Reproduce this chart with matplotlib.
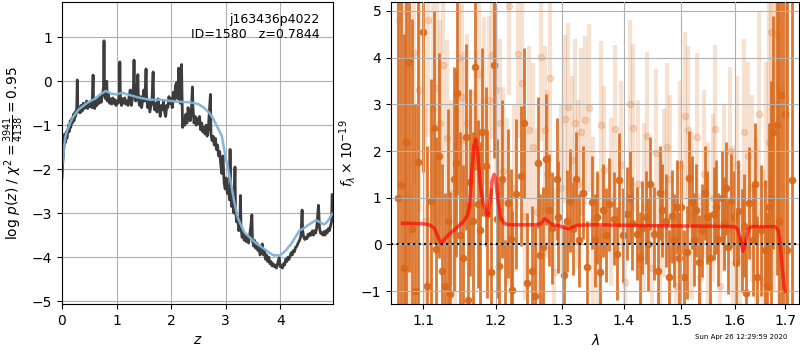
import numpy as np
import matplotlib
matplotlib.use("Agg")
import matplotlib.pyplot as plt
from matplotlib.ticker import FixedLocator, NullLocator, NullFormatter

# ---- left panel: log p(z) ----
z_grid = [0.00, 0.01, 0.02, 0.03, 0.04, 0.05, 0.06, 0.07, 0.08, 0.09, 0.10, 0.12, 0.13, 0.15, 0.16,
          0.18, 0.19, 0.21, 0.22, 0.24, 0.25, 0.27, 0.28, 0.29, 0.31, 0.33, 0.35, 0.37, 0.39, 0.41,
          0.43, 0.45, 0.47, 0.49, 0.51, 0.53, 0.55, 0.57, 0.58, 0.60, 0.62, 0.64, 0.66, 0.68, 0.70,
          0.72, 0.74, 0.76, 0.77, 0.78, 0.80, 0.82, 0.83, 0.85, 0.87, 0.89, 0.91, 0.93, 0.95, 0.97,
          0.99, 1.01, 1.03, 1.05, 1.06, 1.07, 1.09, 1.11, 1.13, 1.15, 1.17, 1.19, 1.21, 1.23, 1.25,
          1.27, 1.29, 1.31, 1.32, 1.33, 1.35, 1.37, 1.39, 1.40, 1.42, 1.44, 1.46, 1.48, 1.50, 1.51,
          1.53, 1.54, 1.55, 1.57, 1.59, 1.61, 1.63, 1.65, 1.67, 1.68, 1.70, 1.72, 1.74, 1.76, 1.78,
          1.80, 1.82, 1.84, 1.86, 1.88, 1.90, 1.92, 1.94, 1.96, 1.98, 2.00, 2.02, 2.04, 2.06, 2.08,
          2.10, 2.12, 2.14, 2.15, 2.17, 2.19, 2.20, 2.21, 2.23, 2.25, 2.27, 2.29, 2.31, 2.33, 2.35,
          2.37, 2.39, 2.40, 2.42, 2.44, 2.46, 2.48, 2.50, 2.52, 2.54, 2.56, 2.58, 2.60, 2.62, 2.64,
          2.66, 2.68, 2.70, 2.72, 2.73, 2.75, 2.77, 2.79, 2.81, 2.83, 2.85, 2.87, 2.89, 2.91, 2.93,
          2.95, 2.97, 2.99, 3.01, 3.03, 3.05, 3.07, 3.08, 3.09, 3.11, 3.13, 3.15, 3.17, 3.18, 3.20,
          3.22, 3.24, 3.26, 3.27, 3.28, 3.30, 3.32, 3.34, 3.36, 3.38, 3.40, 3.42, 3.44, 3.46, 3.48,
          3.49, 3.51, 3.53, 3.55, 3.57, 3.59, 3.61, 3.63, 3.65, 3.67, 3.69, 3.71, 3.73, 3.75, 3.77,
          3.79, 3.81, 3.83, 3.85, 3.87, 3.89, 3.91, 3.93, 3.95, 3.98, 4.00, 4.02, 4.04, 4.06, 4.08,
          4.10, 4.12, 4.14, 4.16, 4.18, 4.20, 4.22, 4.24, 4.26, 4.28, 4.30, 4.32, 4.34, 4.36, 4.38,
          4.40, 4.41, 4.43, 4.45, 4.47, 4.49, 4.51, 4.53, 4.55, 4.57, 4.59, 4.61, 4.63, 4.65, 4.67,
          4.70, 4.72, 4.74, 4.76, 4.78, 4.80, 4.82, 4.84, 4.86, 4.88, 4.90, 4.92, 4.94, 4.95]
logpz = [-2.20, -1.90, -1.75, -1.55, -1.45, -1.20, -1.40, -1.30, -1.15, -1.30, -1.20, -1.00, -1.15, -0.90, -1.05,
         -0.85, -0.95, -0.75, -0.90, -0.70, -0.80, -0.60, 0.03, -0.70, -0.60, -0.72, -0.55, -0.68, -0.50, -0.62,
         -0.55, -0.45, -0.62, -0.50, -0.58, -0.48, -0.60, 0.14, -0.55, -0.62, -0.45, -0.55, -0.40, -0.50, -0.35,
         -0.48, -0.30, -0.15, 0.92, -0.30, -0.40, 0.00, -0.45, -0.30, -0.50, -0.40, -0.52, -0.38, -0.50, -0.42,
         -0.55, -0.45, -0.50, -0.30, 0.44, -0.35, -0.55, -0.40, -0.50, -0.38, -0.52, -0.45, -0.55, -0.35, -0.20,
         -0.55, -0.40, -0.10, 0.48, -0.20, -0.45, -0.30, 0.15, -0.40, -0.55, -0.35, -0.60, -0.40, -0.20, -0.45,
         -0.10, 0.28, -0.35, -0.60, -0.45, -0.70, -0.55, -0.40, 0.21, -0.50, -0.65, -0.50, -0.70, -0.40, -0.60,
         -0.80, -0.55, -0.65, -0.45, -0.70, -0.80, -0.55, -0.60, -0.35, -0.50, -0.40, -0.60, -0.25, -0.45, -0.10,
         -0.03, -0.40, 0.30, -0.10, -0.50, 0.38, -0.30, -1.05, -0.85, -1.00, -0.75, -0.95, -0.60, -0.80, -0.90,
         -0.70, -0.13, -0.60, -0.95, -0.80, -1.00, -0.85, -0.97, -0.80, -1.10, -0.95, -1.15, -1.05, -1.20, -1.00,
         -1.25, -1.10, -0.70, -0.30, -1.20, -1.35, -1.25, -1.45, -1.30, -1.55, -1.45, -1.70, -1.60, -1.90, -2.10,
         -1.70, -2.30, -2.45, -2.20, -2.55, -2.40, -2.70, -1.55, -2.50, -2.85, -2.60, -3.00, -1.95, -2.90, -3.20,
         -3.10, -3.40, -3.25, -2.60, -3.30, -3.55, -3.45, -3.62, -3.50, -3.65, -3.55, -3.68, -3.50, -3.30, -3.04,
         -3.60, -3.75, -3.62, -3.80, -3.68, -3.85, -3.78, -3.95, -3.85, -3.70, -3.95, -3.85, -4.05, -3.95, -4.10,
         -4.00, -4.15, -4.10, -4.20, -4.15, -4.22, -4.18, -4.25, -4.15, -4.01, -4.22, -4.20, -4.25, -4.15, -4.18,
         -4.05, -4.10, -4.00, -4.05, -3.98, -3.90, -3.95, -3.85, -3.88, -3.78, -3.76, -3.70, -3.65, -3.60, -3.50,
         -2.93, -3.40, -3.55, -3.60, -3.55, -3.58, -3.48, -3.52, -3.45, -3.50, -3.40, -3.50, -3.40, -3.45, -3.30,
         -2.82, -3.35, -3.46, -3.45, -3.50, -3.42, -3.50, -3.40, -3.45, -3.35, -3.40, -3.30, -3.20, -2.58]

z_smooth = [0.00, 0.03, 0.06, 0.10, 0.15, 0.20, 0.30, 0.45, 0.60, 0.70, 0.80, 0.90, 1.00, 1.10, 1.20,
            1.40, 1.60, 1.80, 2.00, 2.20, 2.35, 2.50, 2.60, 2.70, 2.77, 2.85, 2.93, 3.00, 3.08, 3.15,
            3.22, 3.29, 3.35, 3.44, 3.55, 3.69, 3.80, 3.88, 4.00, 4.10, 4.20, 4.30, 4.35, 4.45, 4.50,
            4.60, 4.65, 4.72, 4.80, 4.86, 4.95]
logpz_smooth = [-1.95, -1.60, -1.27, -1.10, -0.95, -0.82, -0.65, -0.50, -0.40, -0.30, -0.22, -0.28, -0.30, -0.26, -0.30,
                -0.37, -0.42, -0.42, -0.45, -0.47, -0.48, -0.52, -0.60, -0.72, -0.85, -1.05, -1.25, -1.75, -2.20, -2.70,
                -3.10, -3.30, -3.45, -3.55, -3.68, -3.80, -3.90, -3.96, -3.96, -3.85, -3.70, -3.50, -3.40, -3.33, -3.28,
                -3.20, -3.16, -3.20, -3.26, -3.20, -3.02]

# ---- right panel: spectrum ----
wave = [1.0675, 1.0711, 1.0745, 1.0777, 1.0820, 1.0857, 1.0895, 1.0934, 1.1000, 1.1050, 1.1106, 1.1140,
        1.1173, 1.1213, 1.1253, 1.1294, 1.1330, 1.1362, 1.1417, 1.1444, 1.1458, 1.1500, 1.1540, 1.1580,
        1.1610, 1.1637, 1.1680, 1.1707, 1.1749, 1.1777, 1.1810, 1.1862, 1.1877, 1.1930, 1.1977, 1.2020,
        1.2049, 1.2090, 1.2140, 1.2181, 1.2225, 1.2240, 1.2298, 1.2372, 1.2417, 1.2462, 1.2537, 1.2582,
        1.2628, 1.2658, 1.2704, 1.2750, 1.2796, 1.2842, 1.2920, 1.2935, 1.3029, 1.3075, 1.3124, 1.3171,
        1.3220, 1.3266, 1.3330, 1.3395, 1.3475, 1.3524, 1.3556, 1.3610, 1.3654, 1.3700, 1.3753, 1.3836,
        1.3880, 1.3919, 1.3986, 1.4053, 1.4100, 1.4138, 1.4223, 1.4270, 1.4309, 1.4378, 1.4410, 1.4447,
        1.4517, 1.4587, 1.4620, 1.4657, 1.4728, 1.4781, 1.4830, 1.4870, 1.4924, 1.4960, 1.4996, 1.5050,
        1.5104, 1.5140, 1.5195, 1.5240, 1.5268, 1.5323, 1.5378, 1.5430, 1.5471, 1.5527, 1.5601, 1.5640,
        1.5677, 1.5752, 1.5790, 1.5830, 1.5866, 1.5923, 1.5981, 1.6020, 1.6058, 1.6135, 1.6180, 1.6213,
        1.6271, 1.6350, 1.6390, 1.6429, 1.6520, 1.6587, 1.6630, 1.6667, 1.6710, 1.6748, 1.6828, 1.6870,
        1.6940, 1.6990, 1.7031, 1.7134]
flux = [1.00, 1.28, -0.50, 2.20, 3.90, 0.32, -1.00, 1.77, 4.55, -0.90, 0.94, 2.50,
        -0.10, 1.90, -0.57, -0.90, 0.50, -1.07, 1.40, 1.74, 3.25, 0.20, -0.30, 2.30,
        -1.20, 1.33, 0.50, 3.80, 0.86, 0.30, 2.40, 1.67, 0.66, -0.60, 3.84, 0.55,
        -0.47, 1.40, -1.50, 0.88, 0.12, -0.98, 1.08, 1.47, 2.60, -0.83, -0.57, -1.10,
        1.75, -0.23, -0.06, 1.82, 0.74, 0.36, 1.40, 0.58, -0.66, 0.50, 0.94, 0.34,
        1.40, 0.09, 1.11, -0.49, 0.90, 0.09, 0.58, -0.60, 0.73, 0.20, 0.86, 0.55,
        -0.20, 1.38, 0.20, 0.66, 1.00, 0.45, 0.23, -0.30, 0.36, 0.58, 0.00, 1.30,
        0.23, -0.57, 1.10, 0.73, 0.51, -0.70, 0.60, 0.09, 0.80, -0.30, 0.80, -0.70,
        -0.17, 1.43, 0.90, 0.10, 0.73, -0.38, 0.30, 1.10, 0.58, -0.30, 0.66, 0.80,
        0.11, 1.00, 0.45, 1.20, -0.06, 0.94, 0.58, -0.40, 0.71, 0.09, 0.40, -1.05,
        0.88, 0.09, 1.30, -0.70, 0.30, -0.13, -0.90, 0.81, 1.00, 2.40, 2.55, 0.50,
        3.20, 2.80, -0.13, 1.37]
err = [6.0, 5.5, 5.0, 4.0, 4.5, 4.5, 4.0, 3.5, 3.0, 3.0, 2.6, 2.5,
       2.4, 2.2, 2.3, 2.0, 2.4, 2.2, 2.4, 2.0, 2.2, 2.2, 2.0, 2.0,
       2.1, 2.0, 1.9, 2.2, 1.8, 1.9, 1.8, 1.7, 1.8, 1.8, 2.0, 1.7,
       1.8, 1.7, 1.6, 1.6, 1.5, 1.7, 1.6, 1.5, 1.6, 1.5, 1.4, 1.5,
       1.4, 1.3, 1.3, 1.4, 1.2, 1.2, 1.3, 1.2, 1.1, 1.1, 1.1, 1.0,
       1.0, 1.0, 1.0, 1.0, 1.0, 1.0, 1.0, 1.0, 1.0, 1.0, 1.0, 1.0,
       1.0, 1.0, 1.0, 1.0, 1.0, 1.0, 1.0, 1.0, 1.0, 1.0, 1.0, 1.0,
       1.0, 1.0, 1.0, 1.0, 1.0, 1.0, 1.0, 1.0, 1.0, 1.0, 1.0, 1.0,
       1.0, 1.0, 1.0, 1.0, 1.0, 1.0, 1.0, 1.0, 1.0, 1.0, 1.0, 1.0,
       1.0, 1.0, 1.0, 1.0, 1.0, 1.0, 1.0, 1.1, 1.1, 1.1, 1.1, 1.1,
       1.2, 1.2, 1.3, 1.3, 1.4, 1.5, 1.6, 1.8, 2.5, 2.5, 3.2, 5.0,
       6.0, 6.5, 7.0, 8.0]

wave_b = [1.0690, 1.0760, 1.0810, 1.0880, 1.0950, 1.1030, 1.1070, 1.1130, 1.1190, 1.1230, 1.1270, 1.1320,
          1.1380, 1.1430, 1.1480, 1.1520, 1.1560, 1.1600, 1.1660, 1.1720, 1.1760, 1.1830, 1.1900, 1.1950,
          1.2000, 1.2060, 1.2110, 1.2160, 1.2200, 1.2270, 1.2330, 1.2390, 1.2440, 1.2500, 1.2560, 1.2610,
          1.2680, 1.2730, 1.2770, 1.2820, 1.2880, 1.2980, 1.3050, 1.3100, 1.3150, 1.3200, 1.3250, 1.3300,
          1.3360, 1.3420, 1.3500, 1.3580, 1.3630, 1.3680, 1.3790, 1.3850, 1.3950, 1.4020, 1.4100, 1.4160,
          1.4250, 1.4340, 1.4400, 1.4480, 1.4550, 1.4620, 1.4690, 1.4750, 1.4810, 1.4900, 1.4980, 1.5080,
          1.5130, 1.5200, 1.5290, 1.5350, 1.5420, 1.5500, 1.5580, 1.5630, 1.5720, 1.5800, 1.5900, 1.5960,
          1.6050, 1.6100, 1.6170, 1.6250, 1.6330, 1.6410, 1.6480, 1.6560, 1.6620, 1.6680, 1.6720, 1.6780,
          1.6830, 1.6870, 1.6950]
flux_b = [4.80, 2.20, 1.00, 4.10, 3.30, 0.50, 4.80, 2.90, 3.35, 2.60, 3.85, 2.27,
          1.10, 0.20, 4.00, 3.15, 2.23, 2.60, 1.50, 2.30, 3.65, 3.08, 3.10, 4.05,
          3.30, 2.60, 1.58, 0.90, 5.10, 1.20, 4.08, 3.45, 0.60, 2.46, 2.08, 0.70,
          4.02, 2.45, 1.50, 3.56, -0.60, 1.20, 2.69, 2.94, 1.80, 2.60, 1.30, 2.40,
          2.66, 2.93, 0.50, -0.30, 2.55, 1.60, 0.90, 2.48, 1.70, -0.80, 3.00, 2.50,
          1.30, 0.80, 2.32, -0.50, 1.95, 0.20, 1.10, 2.08, 1.40, -0.90, 1.71, 2.76,
          2.45, 0.60, 2.30, -0.70, 1.50, 0.40, 1.00, 2.48, -0.90, 1.20, 2.01, 0.30,
          1.70, -0.30, 2.40, 1.90, 1.20, 0.20, 2.80, -0.80, 1.30, 2.20, 4.55, 3.00,
          4.50, 3.37, 1.20]
err_b = [3.5, 3.0, 3.0, 2.8, 2.6, 2.5, 2.5, 2.4, 2.3, 2.2, 2.2, 2.1,
         2.0, 2.0, 2.0, 2.0, 1.9, 1.9, 1.8, 1.8, 1.8, 1.8, 1.8, 1.8,
         1.8, 1.8, 1.8, 1.8, 1.9, 1.8, 1.8, 1.8, 1.8, 1.8, 1.8, 1.8,
         1.8, 1.8, 1.8, 1.8, 1.8, 1.8, 1.8, 1.8, 1.8, 1.8, 1.8, 1.8,
         1.8, 1.8, 1.8, 1.8, 1.8, 1.8, 1.8, 1.8, 1.8, 1.8, 1.8, 1.8,
         1.8, 1.8, 1.8, 1.8, 1.8, 1.8, 1.8, 1.8, 1.8, 1.8, 1.8, 1.8,
         1.8, 1.8, 1.8, 1.8, 1.8, 1.8, 1.8, 1.8, 1.8, 1.8, 1.8, 1.8,
         1.9, 1.9, 2.0, 2.0, 2.0, 2.1, 2.2, 2.4, 2.6, 3.0, 3.5, 4.0,
         4.5, 5.0, 5.5]

model_wave = [1.073, 1.090, 1.100, 1.108, 1.115, 1.120, 1.124, 1.128, 1.135, 1.145, 1.155, 1.160,
              1.163, 1.166, 1.169, 1.172, 1.175, 1.178, 1.182, 1.186, 1.189, 1.192, 1.195, 1.198,
              1.200, 1.203, 1.207, 1.212, 1.220, 1.240, 1.260, 1.268, 1.273, 1.278, 1.285, 1.295,
              1.305, 1.310, 1.318, 1.325, 1.350, 1.450, 1.550, 1.600, 1.606, 1.611, 1.616, 1.621,
              1.626, 1.632, 1.650, 1.680, 1.686, 1.690, 1.694, 1.698, 1.700]
model_flux = [0.45, 0.45, 0.44, 0.42, 0.35, 0.15, 0.01, 0.10, 0.22, 0.35, 0.50, 0.62,
              0.80, 1.50, 2.10, 2.25, 1.90, 1.30, 0.90, 0.70, 0.62, 0.90, 1.35, 1.50,
              1.42, 1.00, 0.60, 0.45, 0.42, 0.42, 0.42, 0.45, 0.55, 0.50, 0.42, 0.40,
              0.35, 0.33, 0.38, 0.41, 0.42, 0.40, 0.39, 0.38, 0.32, 0.10, -0.15, 0.05,
              0.32, 0.38, 0.38, 0.38, 0.30, 0.00, -0.50, -0.90, -1.00]

spec_color = "#d8691c"

fig = plt.figure(figsize=(8, 3.5), dpi=100)

# left panel
ax1 = fig.add_axes([0.0775, 0.131, 0.339, 0.863])
ax1.plot(z_grid, logpz, color="#3c3c3c", lw=2)
ax1.plot(z_smooth, logpz_smooth, color="#80b3d9", lw=1.8, alpha=0.95)
ax1.set_xlim(0, 4.97)
ax1.set_ylim(-5.07, 1.8)
ax1.set_xticks([0, 1, 2, 3, 4])
ax1.set_yticks([-5, -4, -3, -2, -1, 0, 1])
ax1.grid()
ax1.set_xlabel("$z$")
ax1.set_ylabel(r"log $p(z)$ / $\chi^2=\frac{3941}{4138}=0.95$")
ax1.text(0.95, 0.965, "j163436p4022\nID=1580   z=0.7844", ha="right", va="top",
         fontsize=9, transform=ax1.transAxes)

# right panel
ax2 = fig.add_axes([0.489, 0.131, 0.51, 0.863])
ax2.errorbar(wave_b, flux_b, yerr=err_b, marker="o", ms=4.5, linestyle="none",
             color=spec_color, alpha=0.2, elinewidth=3, zorder=1)
ax2.errorbar(wave, flux, yerr=err, marker="o", ms=4.5, linestyle="none",
             color=spec_color, alpha=0.9, elinewidth=2, zorder=2)
ax2.plot(model_wave, model_flux, color="red", alpha=0.65, lw=2.5, zorder=4)
ax2.axhline(0, color="k", linestyle=":", lw=1.5, zorder=5)
ax2.set_xscale("log")
ax2.set_xlim(1.0585, 1.729)
ax2.set_ylim(-1.28, 5.19)
ax2.xaxis.set_major_locator(FixedLocator([1.1, 1.2, 1.3, 1.4, 1.5, 1.6, 1.7]))
ax2.set_xticklabels(["1.1", "1.2", "1.3", "1.4", "1.5", "1.6", "1.7"])
ax2.xaxis.set_minor_locator(NullLocator())
ax2.xaxis.set_minor_formatter(NullFormatter())
ax2.set_yticks([-1, 0, 1, 2, 3, 4, 5])
ax2.set_axisbelow(False)
ax2.grid()
ax2.set_xlabel(r"$\lambda$")
ax2.set_ylabel(r"$f_\lambda\times10^{-19}$", labelpad=2)

fig.text(0.984, 0.028, "Sun Apr 26 12:29:59 2020", ha="right", va="bottom", fontsize=5)

fig.savefig("out.png", dpi=100)
